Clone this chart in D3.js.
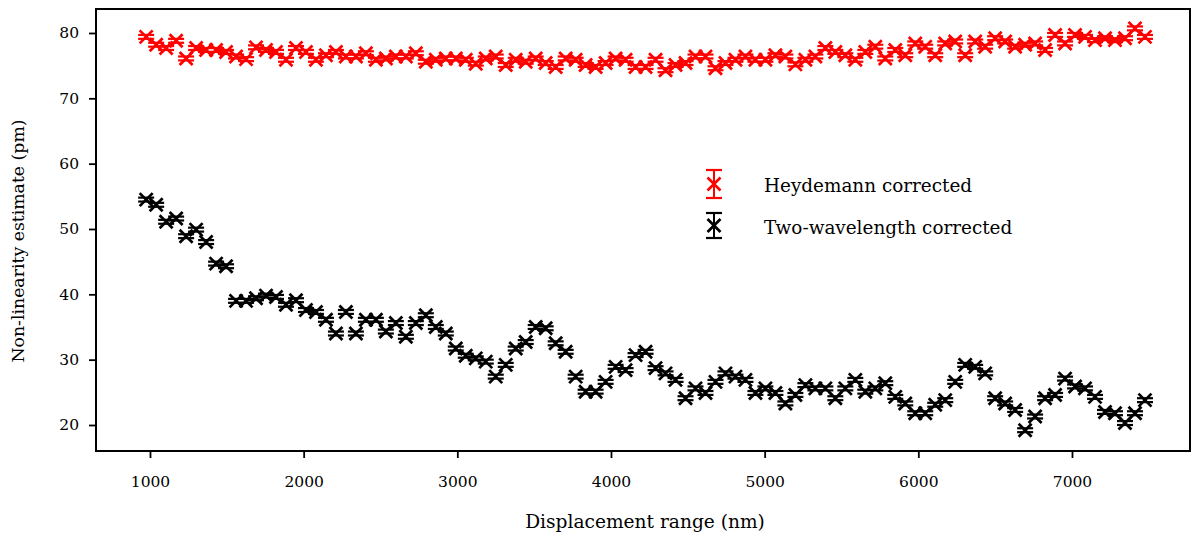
<!DOCTYPE html>
<html>
<head>
<meta charset="utf-8">
<script src="https://cdn.jsdelivr.net/npm/d3@7"></script>
<style>
  html, body { margin: 0; padding: 0; background: #fff; }
  svg { display: block; }
  text { font-family: "DejaVu Serif", "Liberation Serif", serif; fill: #000; }
</style>
</head>
<body>
<svg id="chart" width="1192" height="533"></svg>
<script>
// Displacement ranges (nm) at which both corrections were evaluated
const displacement = [
  975, 1040, 1105, 1170, 1235, 1300, 1365, 1430, 1495, 1560,
  1625, 1690, 1755, 1820, 1885, 1950, 2015, 2080, 2145, 2210,
  2275, 2340, 2405, 2470, 2535, 2600, 2665, 2730, 2795, 2860,
  2925, 2990, 3055, 3120, 3185, 3250, 3315, 3380, 3445, 3510,
  3575, 3640, 3705, 3770, 3835, 3900, 3965, 4030, 4095, 4160,
  4225, 4290, 4355, 4420, 4485, 4550, 4615, 4680, 4745, 4810,
  4875, 4940, 5005, 5070, 5135, 5200, 5265, 5330, 5395, 5460,
  5525, 5590, 5655, 5720, 5785, 5850, 5915, 5980, 6045, 6110,
  6175, 6240, 6305, 6370, 6435, 6500, 6565, 6630, 6695, 6760,
  6825, 6890, 6955, 7020, 7085, 7150, 7215, 7280, 7345, 7410,
  7475
];

// Non-linearity estimate (pm) after Heydemann correction
const heydemann = [
  79.4, 78.2, 77.7, 78.8, 76.1, 77.7, 77.4, 77.4, 77.1, 76.4,
  76.0, 77.8, 77.4, 77.1, 75.9, 77.7, 77.1, 75.9, 76.6, 77.1,
  76.4, 76.4, 76.9, 75.9, 76.1, 76.4, 76.4, 76.9, 75.6, 75.9,
  76.1, 76.1, 75.9, 75.3, 76.1, 76.4, 75.1, 75.9, 75.6, 76.1,
  75.4, 74.8, 76.1, 75.9, 75.1, 74.8, 75.4, 76.1, 75.9, 74.8,
  74.8, 75.9, 74.3, 75.1, 75.4, 76.4, 76.4, 74.6, 75.4, 75.9,
  76.4, 75.9, 75.9, 76.6, 76.4, 75.2, 75.9, 76.4, 77.7, 77.1,
  76.6, 75.9, 77.1, 77.9, 76.1, 77.4, 76.6, 78.4, 77.9, 76.6,
  78.4, 78.7, 76.6, 78.7, 77.9, 79.2, 78.7, 77.9, 78.2, 78.4,
  77.4, 79.7, 78.4, 79.7, 79.4, 78.9, 79.2, 78.9, 79.2, 80.7,
  79.4
];

// Non-linearity estimate (pm) after two-wavelength correction
const twoWavelength = [
  54.5, 53.7, 51.1, 51.6, 48.9, 49.9, 48.0, 44.7, 44.3, 39.0,
  39.0, 39.4, 39.8, 39.6, 38.4, 39.1, 37.6, 37.3, 36.1, 34.0,
  37.3, 34.0, 36.1, 36.1, 34.3, 35.6, 33.5, 35.6, 36.8, 35.0,
  34.0, 31.7, 30.6, 30.2, 29.7, 27.4, 29.2, 31.7, 32.7, 35.0,
  34.8, 32.5, 31.2, 27.4, 25.1, 25.1, 26.6, 28.9, 28.4, 30.7,
  31.2, 28.7, 27.9, 26.9, 24.1, 25.6, 24.9, 26.6, 27.9, 27.4,
  26.9, 24.9, 25.6, 24.9, 23.3, 24.6, 26.1, 25.6, 25.6, 24.1,
  25.6, 26.9, 25.1, 25.6, 26.4, 24.3, 23.3, 21.8, 21.8, 23.1,
  23.8, 26.6, 29.2, 28.9, 27.9, 24.1, 23.3, 22.3, 19.2, 21.3,
  24.1, 24.6, 27.1, 25.9, 25.6, 24.3, 22.0, 21.8, 20.3, 21.8,
  23.8
];

// Standard uncertainty (pm) on each estimate
const heydemannErr = 0.3;
const twoWavelengthErr = 0.3;

const xTicks = [1000, 2000, 3000, 4000, 5000, 6000, 7000];
const yTicks = [20, 30, 40, 50, 60, 70, 80];

const series = [
  { name: "Heydemann corrected", values: heydemann, err: heydemannErr, color: "#ff0000" },
  { name: "Two-wavelength corrected", values: twoWavelength, err: twoWavelengthErr, color: "#000000" }
];

const W = 1192, H = 533;
const margin = { left: 96, right: 2, top: 9, bottom: 82 };

const svg = d3.select("#chart");

const x = d3.scaleLinear().domain([648.6, 7768]).range([margin.left, W - margin.right]);
const y = d3.scaleLinear().domain([16.02, 83.67]).range([H - margin.bottom, margin.top]);

const markerHalf = 6.5;
const capHalf = 8;

function drawErrorMarker(g, cx, cy, yLo, yHi, color) {
  // vertical bar with caps
  g.append("line").attr("x1", cx).attr("x2", cx).attr("y1", yLo).attr("y2", yHi)
    .attr("stroke", color).attr("stroke-width", 2);
  [yLo, yHi].forEach(yy => {
    g.append("line").attr("x1", cx - capHalf).attr("x2", cx + capHalf).attr("y1", yy).attr("y2", yy)
      .attr("stroke", color).attr("stroke-width", 2.2);
  });
  // x-shaped marker
  g.append("path")
    .attr("d", `M${cx - markerHalf},${cy - markerHalf}L${cx + markerHalf},${cy + markerHalf}` +
               `M${cx - markerHalf},${cy + markerHalf}L${cx + markerHalf},${cy - markerHalf}`)
    .attr("stroke", color).attr("stroke-width", 2.7).attr("fill", "none");
}

// data
const plot = svg.append("g");
series.forEach(s => {
  const g = plot.append("g").attr("class", "series");
  s.values.forEach((v, i) => {
    const cx = x(displacement[i]);
    drawErrorMarker(g, cx, y(v), y(v - s.err), y(v + s.err), s.color);
  });
});

// axes
const xAxis = d3.axisBottom(x).tickValues(xTicks).tickSize(7).tickPadding(18).tickFormat(d3.format("d"));
const yAxis = d3.axisLeft(y).tickValues(yTicks).tickSize(7).tickPadding(10).tickFormat(d3.format("d"));

const gx = svg.append("g").attr("transform", `translate(0,${H - margin.bottom})`).call(xAxis);
const gy = svg.append("g").attr("transform", `translate(${margin.left},0)`).call(yAxis);
[gx, gy].forEach(g => {
  g.select(".domain").remove();
  g.selectAll(".tick line").attr("stroke", "#000").attr("stroke-width", 1.8);
  g.selectAll(".tick text").attr("font-family", "Liberation Serif").attr("font-size", 15.5).attr("fill", "#000");
});

// frame
svg.append("rect")
  .attr("x", margin.left).attr("y", margin.top)
  .attr("width", W - margin.right - margin.left).attr("height", H - margin.bottom - margin.top)
  .attr("fill", "none").attr("stroke", "#000").attr("stroke-width", 2);

// axis titles
svg.append("text")
  .attr("x", 645).attr("y", 528).attr("text-anchor", "middle")
  .attr("font-size", 18.6).text("Displacement range (nm)");
svg.append("text")
  .attr("transform", "translate(24,241) rotate(-90)").attr("text-anchor", "middle")
  .attr("font-size", 17.3).text("Non-linearity estimate (pm)");

// legend
const legend = svg.append("g");
const legendRows = [
  { cy: 184, half: 14 },
  { cy: 225.5, half: 12.5 }
];
series.forEach((s, k) => {
  const r = legendRows[k];
  drawErrorMarker(legend, 714, r.cy, r.cy + r.half, r.cy - r.half, s.color);
  legend.append("text").attr("x", 764).attr("y", r.cy + 8).attr("font-size", 18.4).text(s.name);
});
</script>
</body>
</html>
